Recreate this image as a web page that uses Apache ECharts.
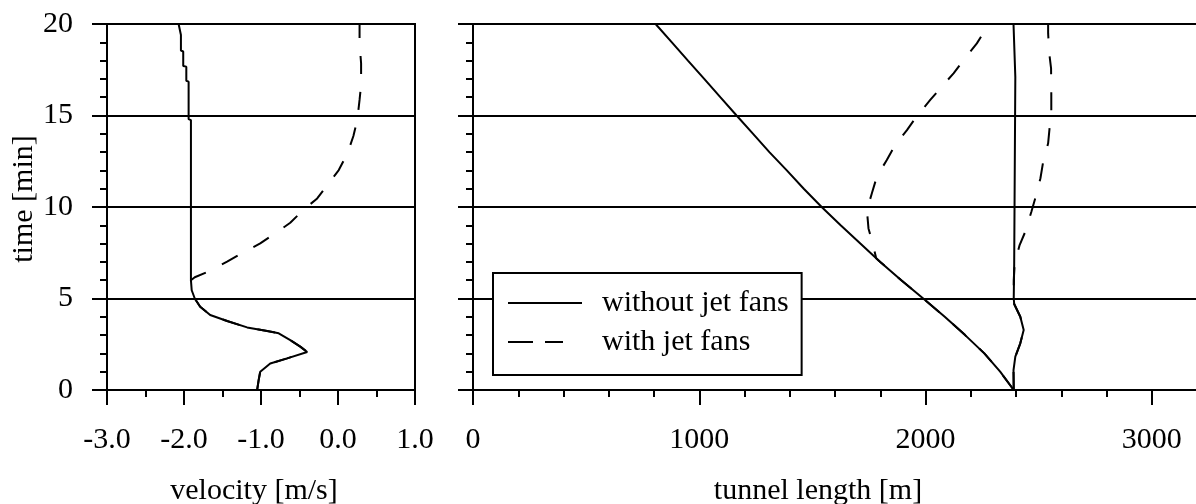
<!DOCTYPE html>
<html>
<head>
<meta charset="utf-8">
<script src="https://cdn.jsdelivr.net/npm/echarts@6/dist/echarts.min.js"></script>
<style>
html,body{margin:0;padding:0;background:#fff;}
#c{width:1196px;height:504px;}
</style>
</head>
<body>
<div id="c"></div>
<script>
// ---- Left panel: velocity [m/s] vs time [min] ----
const velNoFanTime = [0,0.55,1.0,1.45,1.73,2.08,2.37,2.73,3.1,3.22,3.42,3.77,4.1,4.55,5.0,5.45,6.0,14.75,14.8,16.85,16.9,17.67,17.7,18.5,18.55,19.4,19.45,20];
const velNoFanVel  = [-1.05,-1.03,-1.01,-0.88,-0.66,-0.40,-0.49,-0.62,-0.77,-0.92,-1.18,-1.44,-1.66,-1.79,-1.86,-1.90,-1.91,-1.91,-1.94,-1.94,-1.97,-1.97,-2.01,-2.01,-2.04,-2.04,-2.06,-2.07];
const velFanTime = [0,0.55,1.0,1.45,1.73,2.08,2.37,2.73,3.1,3.22,3.42,3.77,4.1,4.55,5.0,5.45,6.0,6.16,6.52,7.01,7.52,8.01,8.56,9.14,9.84,10.47,11.3,12.02,12.9,13.88,14.75,15.85,16.67,17.85,18.4,18.95,20];
const velFanVel  = [-1.05,-1.03,-1.01,-0.88,-0.66,-0.40,-0.49,-0.62,-0.77,-0.92,-1.18,-1.44,-1.66,-1.79,-1.86,-1.90,-1.91,-1.86,-1.66,-1.44,-1.23,-1.01,-0.815,-0.62,-0.45,-0.27,-0.12,0.01,0.12,0.20,0.25,0.28,0.30,0.30,0.29,0.28,0.28];

// ---- Right panel: smoke front position [m] vs time [min] ----
const lenNoFanUpTime = [0,1,2,3,4,5,6,7,8,9,10,11,12,13,14,15,16,17,18,19,20];
const lenNoFanUpPos  = [2390,2330,2260,2175,2085,1990,1893,1800,1712,1625,1541,1462,1387,1310,1238,1165,1093,1022,950,879,807];
const lenNoFanDownTime = [0,1.09,1.82,2.55,3.28,4.0,4.7,5.0,6.9,7.0,17.1,17.2,20];
const lenNoFanDownPos  = [2390,2389,2397,2419,2434,2419,2392,2390,2392,2397,2397,2389,2389];
const lenFanUpTime = [0,1,2,3,4,5,6,7,7.2,7.83,8.83,9.84,10.75,11.66,12.57,13.39,14.2,14.97,15.85,16.48,17.3,18.03,18.94,19.67,20];
const lenFanUpPos  = [2390,2330,2260,2175,2085,1990,1893,1800,1782,1770,1748,1741,1763,1785,1829,1866,1918,1962,2021,2065,2124,2168,2227,2264,2280];
const lenFanDownTime = [0,1.09,1.82,2.55,3.28,4.0,4.7,5.0,6.0,6.9,7.92,8.65,9.74,10.47,11.57,12.39,13.48,14.39,15.3,16.21,17.58,18.4,19.5,20];
const lenFanDownPos  = [2390,2389,2397,2419,2434,2419,2392,2390,2390,2394,2416,2441,2468,2485,2508,2519,2542,2549,2556,2556,2555,2547,2542,2542];

const seriesNames = ['without jet fans','with jet fans'];
const velTicks = {min:-3, max:1, interval:1};
const lenTicks = {min:0, max:3200, interval:1000, minorInterval:200};
const timeTicks = {min:0, max:20, interval:5};

function zip(xs, ts){ return xs.map((x,i)=>[x, ts[i]]); }

const FONT = '"Liberation Serif", "Times New Roman", serif';
const BLACK = '#000';
const txt = {fontFamily: FONT, fontSize: 30, color: BLACK};
const line2 = {color: BLACK, width: 2};
const DASH = [18,18];

const chart = echarts.init(document.getElementById('c'), null, {renderer:'canvas'});

const yAxisCommon = {
  type:'value', min:timeTicks.min, max:timeTicks.max, interval:timeTicks.interval,
  axisLine:{show:true, onZero:false, lineStyle:line2},
  axisTick:{show:true, inside:false, length:15, lineStyle:line2},
  minorTick:{show:true, splitNumber:5, length:7, lineStyle:line2},
  splitLine:{show:true, lineStyle:line2},
  minorSplitLine:{show:false}
};

const ICON_SOLID = 'path://M0,0H74V2H0Z';
const ICON_DASH = 'path://M0,0H25V2H0Z M37,0H55V2H37Z M74,1L74,1';

const option = {
  animation:false,
  backgroundColor:'#fff',
  grid:[
    {left:107, top:24, width:308, height:366, containLabel:false, outerBoundsMode:'none',
     show:true, borderColor:BLACK, borderWidth:2, backgroundColor:'transparent'},
    {left:473, top:24, width:724, height:366, containLabel:false, outerBoundsMode:'none',
     show:true, borderColor:BLACK, borderWidth:2, backgroundColor:'transparent'}
  ],
  xAxis:[
    {gridIndex:0, type:'value', position:'bottom', min:velTicks.min, max:velTicks.max, interval:velTicks.interval,
     axisLine:{show:true, onZero:false, lineStyle:line2},
     axisTick:{show:true, length:15, lineStyle:line2},
     minorTick:{show:true, splitNumber:2, length:7, lineStyle:line2},
     splitLine:{show:false},
     axisLabel:Object.assign({margin:35, formatter:v=>v.toFixed(1)}, txt),
     name:'velocity [m/s]', nameLocation:'middle', nameGap:86,
     nameTextStyle:Object.assign({padding:[0,14,0,0]}, txt)},
    {gridIndex:1, type:'value', position:'bottom', min:lenTicks.min, max:lenTicks.max, interval:lenTicks.interval,
     axisLine:{show:true, onZero:false, lineStyle:line2},
     axisTick:{show:true, length:15, lineStyle:line2},
     splitLine:{show:false},
     axisLabel:Object.assign({margin:35, showMaxLabel:false, formatter:v=>String(v)}, txt),
     name:'tunnel length [m]', nameLocation:'middle', nameGap:86,
     nameTextStyle:Object.assign({padding:[0,34,0,0]}, txt)},
    {gridIndex:1, type:'value', position:'bottom', min:lenTicks.min, max:lenTicks.max, interval:lenTicks.minorInterval,
     axisLine:{show:false, onZero:false},
     axisTick:{show:true, length:7, lineStyle:line2},
     splitLine:{show:false},
     axisLabel:{show:false}}
  ],
  yAxis:[
    Object.assign({gridIndex:0, position:'left',
      axisLabel:Object.assign({margin:34}, txt),
      name:'time [min]', nameLocation:'middle', nameGap:68, nameRotate:90,
      nameTextStyle:Object.assign({padding:[0,0,0,16]}, txt)}, yAxisCommon),
    Object.assign({gridIndex:1, position:'left', axisLabel:{show:false}}, yAxisCommon)
  ],
  legend:{
    left:493, top:273, orient:'vertical',
    padding:[15,13,18,15], itemGap:9, itemWidth:74, itemHeight:2,
    backgroundColor:'#fff', borderColor:BLACK, borderWidth:2, borderRadius:0,
    itemStyle:{color:BLACK, borderWidth:0},
    textStyle:Object.assign({padding:[0,0,0,15], lineHeight:30}, txt),
    data:[
      {name:seriesNames[0], icon:ICON_SOLID},
      {name:seriesNames[1], icon:ICON_DASH}
    ]
  },
  series:[
    {name:seriesNames[0], type:'line', xAxisIndex:0, yAxisIndex:0, showSymbol:false, symbol:'none',
     lineStyle:{color:BLACK, width:2, type:'solid'}, itemStyle:{color:BLACK}, data:zip(velNoFanVel, velNoFanTime), z:3},
    {name:seriesNames[1], type:'line', xAxisIndex:0, yAxisIndex:0, showSymbol:false, symbol:'none',
     lineStyle:{color:BLACK, width:2, type:DASH}, itemStyle:{color:BLACK}, data:zip(velFanVel, velFanTime), z:3},
    {name:seriesNames[0], type:'line', xAxisIndex:1, yAxisIndex:1, showSymbol:false, symbol:'none',
     lineStyle:{color:BLACK, width:2, type:'solid'}, itemStyle:{color:BLACK}, data:zip(lenNoFanUpPos, lenNoFanUpTime), z:3},
    {name:seriesNames[0], type:'line', xAxisIndex:1, yAxisIndex:1, showSymbol:false, symbol:'none',
     lineStyle:{color:BLACK, width:2, type:'solid'}, itemStyle:{color:BLACK}, data:zip(lenNoFanDownPos, lenNoFanDownTime), z:3},
    {name:seriesNames[1], type:'line', xAxisIndex:1, yAxisIndex:1, showSymbol:false, symbol:'none',
     lineStyle:{color:BLACK, width:2, type:DASH}, itemStyle:{color:BLACK}, data:zip(lenFanUpPos, lenFanUpTime), z:3},
    {name:seriesNames[1], type:'line', xAxisIndex:1, yAxisIndex:1, showSymbol:false, symbol:'none',
     lineStyle:{color:BLACK, width:2, type:DASH}, itemStyle:{color:BLACK}, data:zip(lenFanDownPos, lenFanDownTime), z:3}
  ]
};
chart.setOption(option);
</script>
</body>
</html>
